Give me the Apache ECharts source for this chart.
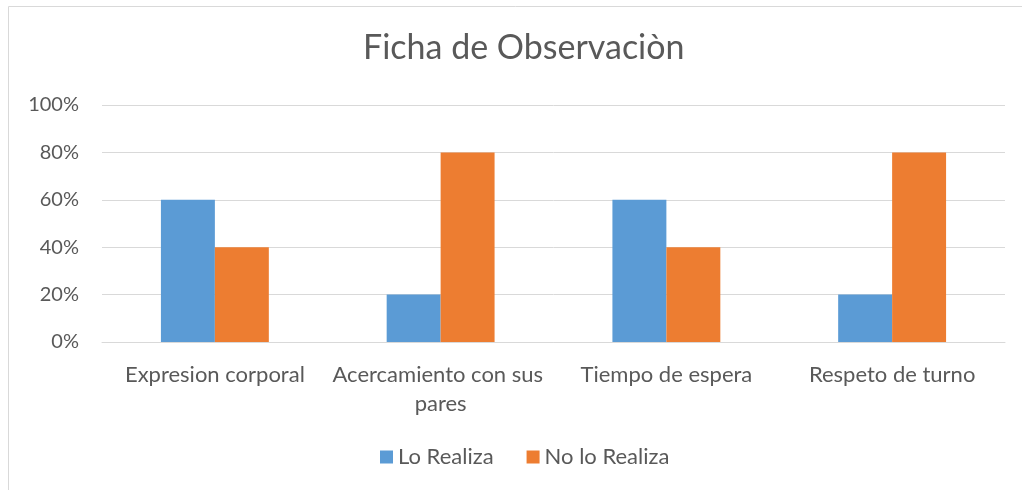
<!DOCTYPE html>
<html>
<head>
<meta charset="utf-8">
<script src="https://cdn.jsdelivr.net/npm/echarts@6/dist/echarts.min.js"></script>
<style>
  html, body { margin: 0; padding: 0; background: #fff; }
  #chart { width: 1022px; height: 490px; }
</style>
</head>
<body>
<div id="chart"></div>
<script>
// datos de la ficha
var categorias = ['Expresion corporal', 'Acercamiento con sus pares', 'Tiempo de espera', 'Respeto de turno'];
var loRealiza = [60, 20, 60, 20];
var noLoRealiza = [40, 80, 40, 80];
var seriesNombres = ['Lo Realiza', 'No lo Realiza'];

var chart = echarts.init(document.getElementById('chart'));
var fuente = 'Lato';
var option = {
    animation: false,
    color: ['#5B9BD5', '#ED7D31'],
    graphic: [{
        type: 'rect',
        shape: { x: 8.5, y: 6.5, width: 1100, height: 600 },
        style: { fill: 'none', stroke: '#d9d9d9', lineWidth: 1 }
    }],
    title: {
        text: 'Ficha de Observaciòn',
        left: 358,   // el marco sigue fuera de la imagen, centro un poco a la derecha
        top: 26,
        textStyle: { fontFamily: fuente, fontSize: 34, fontWeight: 'normal', color: '#595959' }
    },
    legend: {
        bottom: 17,
        left: 375,
        itemWidth: 13,
        itemHeight: 13,
        itemGap: 33,
        icon: 'rect',
        textStyle: { fontFamily: fuente, fontSize: 22, color: '#595959' },
        data: seriesNombres
    },
    grid: { left: 102, right: 17, top: 105, bottom: 148 },
    xAxis: {
        type: 'category',
        data: categorias,
        axisLine: { lineStyle: { color: '#d9d9d9', width: 1 } },
        axisTick: { show: false },
        axisLabel: {
            fontFamily: fuente, fontSize: 22, color: '#595959',
            margin: 18, interval: 0, width: 220, overflow: 'break', lineHeight: 29
        }
    },
    yAxis: {
        type: 'value',
        min: 0,
        max: 100,
        interval: 20,
        axisLine: { show: false },
        axisTick: { show: false },
        splitLine: { lineStyle: { color: '#d9d9d9', width: 1 } },
        axisLabel: { formatter: '{value}%', fontFamily: fuente, fontSize: 20, color: '#595959', margin: 23 }
    },
    series: [
        { name: seriesNombres[0], type: 'bar', data: loRealiza, barWidth: '23.9%', barGap: '0%' },
        { name: seriesNombres[1], type: 'bar', data: noLoRealiza, barWidth: '23.9%', barGap: '0%' }
    ]
};
chart.setOption(option);
</script>
</body>
</html>
